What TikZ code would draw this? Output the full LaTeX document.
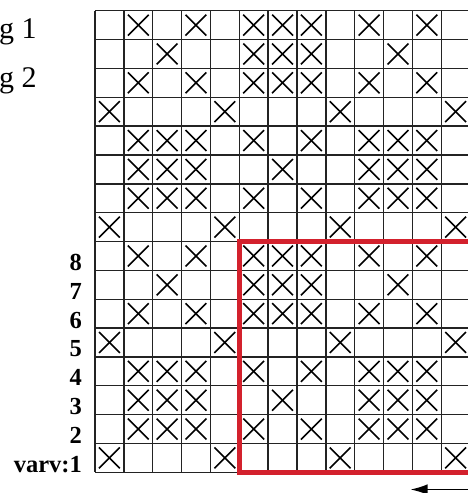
\documentclass[tikz,border=0pt]{standalone}
\usepackage{fontspec}
\setmainfont{Liberation Serif}
\usetikzlibrary{arrows.meta}
\definecolor{gridc}{RGB}{35,35,35}
\definecolor{redc}{RGB}{211,33,45}
\begin{document}
\begin{tikzpicture}[x=1pt,y=-1pt,
  gridline/.style={draw=gridc,line width=1.4pt},
  cross/.style={draw=black,line width=1.6pt},
  rowlabel/.style={font=\fontsize{24.5}{24.5}\selectfont\bfseries,anchor=base east,inner sep=0pt},
  toplabel/.style={font=\fontsize{30}{30}\selectfont,anchor=base west,inner sep=0pt},
  frame/.style={draw=redc,line width=4.5pt,line join=miter},
  dirarrow/.style={draw=black,line width=1.6pt,-{Latex[length=17pt,width=10.5pt]}},
]
\useasboundingbox (0,0) rectangle (468,493);
\clip (0,0) rectangle (468,493);
\def\cw{28.85}
\def\gx{95}
\def\gy{10.7}
% grid
\foreach \j in {0,...,16} \draw[gridline] (\gx, \gy+\j*\cw) -- (\gx+13*\cw, \gy+\j*\cw);
\foreach \k in {0,...,13} \draw[gridline] (\gx+\k*\cw, \gy) -- (\gx+\k*\cw, \gy+16*\cw);
% crosses
\foreach \r/\cols in {0/{1,3,5,6,7,9,11},1/{2,5,6,7,10},2/{1,3,5,6,7,9,11},3/{0,4,8,12},4/{1,2,3,5,7,9,10,11},5/{1,2,3,6,9,10,11},6/{1,2,3,5,7,9,10,11},7/{0,4,8,12}}{
  \foreach \b in {0,8}{
    \foreach \c in \cols {
      \pgfmathsetmacro\rr{\r+\b}
      \draw[cross] (\gx+\c*\cw+4, \gy+\rr*\cw+4) -- ++(\cw-8, \cw-8);
      \draw[cross] (\gx+\c*\cw+\cw-4, \gy+\rr*\cw+4) -- ++(8-\cw, \cw-8);
    }
  }
}
% red frame
\draw[frame] (\gx+5*\cw, \gy+8*\cw) -- (\gx+5*\cw, \gy+16*\cw) -- (490, \gy+16*\cw)
  (\gx+5*\cw-2.25, \gy+8*\cw) -- (490, \gy+8*\cw);
% labels
\foreach \n in {2,...,8} \node[rowlabel] (lab\n) at (82, \gy+17*\cw-\n*\cw) {\n};
\node[rowlabel] (lab1) at (82, \gy+16*\cw) {varv:1};
\node[toplabel] (fig1) at (-1, 38.3) {g 1};
\node[toplabel] (fig2) at (-1, 87.3) {g 2};
% arrow
\coordinate (astart) at (480, 489.5);
\coordinate (aend) at (410.5, 489.5);
\draw[dirarrow] (astart) -- (aend);
\end{tikzpicture}
\end{document}
